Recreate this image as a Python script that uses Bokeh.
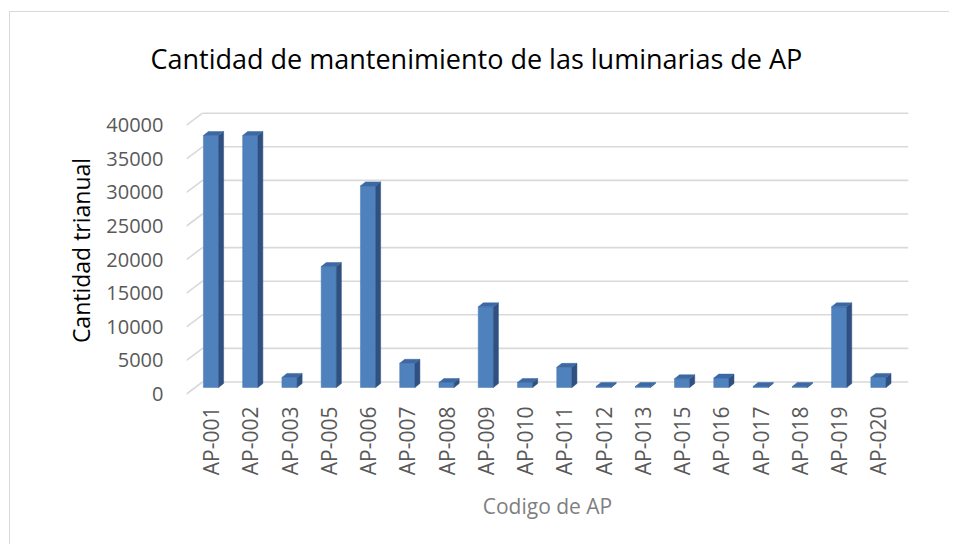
import math
from bokeh.plotting import figure
from bokeh.models import Range1d, FixedTicker, ColumnDataSource
from bokeh.embed import file_html
from bokeh.resources import INLINE

# ---------------- data ----------------
categories = ["AP-001", "AP-002", "AP-003", "AP-005", "AP-006", "AP-007", "AP-008",
              "AP-009", "AP-010", "AP-011", "AP-012", "AP-013", "AP-015", "AP-016",
              "AP-017", "AP-018", "AP-019", "AP-020"]
values = [37500, 37500, 1500, 18000, 30000, 3600, 750, 12000, 750, 3000,
          150, 150, 1300, 1400, 150, 150, 12000, 1500]
y_ticks = [0, 5000, 10000, 15000, 20000, 25000, 30000, 35000, 40000]

title_text = "Cantidad de mantenimiento de las luminarias de AP"
x_title = "Codigo de AP"
y_title = "Cantidad trianual"

# ---------------- geometry (page pixels) ----------------
ORIGIN_X, ORIGIN_Y = 10, 12          # canvas origin on page
W, H = 940, 533
FRAME_L, FRAME_R, FRAME_T, FRAME_B = 186, 908, 100, 400
CAT0_PX, CAT_STEP_PX = 210.5, 39.26
Y0_PX, PX_PER_UNIT = 393.5, 6.72 / 1000.0

x_start = (FRAME_L - CAT0_PX) / CAT_STEP_PX
x_end = (FRAME_R - CAT0_PX) / CAT_STEP_PX
y_start = (Y0_PX - FRAME_B) / PX_PER_UNIT
y_end = (Y0_PX - FRAME_T) / PX_PER_UNIT


def dx(px):
    return px / CAT_STEP_PX


def dy(px):
    return px / PX_PER_UNIT


FONT = "Open Sans"

p = figure(width=W, height=H,
           x_range=Range1d(x_start, x_end), y_range=Range1d(y_start, y_end),
           output_backend="svg", toolbar_location=None,
           min_border_left=FRAME_L - ORIGIN_X, min_border_right=(ORIGIN_X + W) - FRAME_R,
           min_border_top=FRAME_T - ORIGIN_Y, min_border_bottom=(ORIGIN_Y + H) - FRAME_B)
p.xgrid.visible = False
p.ygrid.visible = False
p.outline_line_color = None
p.background_fill_color = "white"
p.border_fill_color = "white"
p.styles = {"margin-left": "9px", "margin-top": "11px",
            "border-top": "1px solid #d9d9d9", "border-left": "1px solid #d9d9d9"}

# ---------------- title ----------------
p.title.text = title_text
p.title.text_font = FONT
p.title.text_font_size = "27px"
p.title.text_font_style = "normal"
p.title.text_color = "#000000"
p.title.align = "left"
p.title.offset = 150 - FRAME_L
p.title.standoff = 48

# ---------------- 3D wall gridlines ----------------
BACK_DX, BACK_DY = dx(16), dy(12)
p.segment(x0=[x_start + BACK_DX] * len(y_ticks), y0=[t + BACK_DY for t in y_ticks],
          x1=[x_end] * len(y_ticks), y1=[t + BACK_DY for t in y_ticks],
          line_color="#d9d9d9", line_width=1.6)
p.segment(x0=[x_start] * len(y_ticks), y0=y_ticks,
          x1=[x_start + BACK_DX] * len(y_ticks), y1=[t + BACK_DY for t in y_ticks],
          line_color="#d9d9d9", line_width=1.6)

# ---------------- 3D columns ----------------
HALF = dx(7.6)
BASE = dy(6.5)
DEP_X, DEP_Y = dx(5), dy(4)

idx = list(range(len(categories)))
front = ColumnDataSource(dict(left=[i - HALF for i in idx], right=[i + HALF for i in idx],
                              bottom=[BASE] * len(idx), top=[BASE + v for v in values]))
p.quad(left="left", right="right", bottom="bottom", top="top", source=front,
       fill_color="#4f81bd", line_color="#4a7ab5", line_width=0.5)

side_xs, side_ys, top_xs, top_ys = [], [], [], []
for i, v in zip(idx, values):
    r = i + HALF
    l = i - HALF
    t = BASE + v
    side_xs.append([r, r + DEP_X, r + DEP_X, r])
    side_ys.append([BASE, BASE + DEP_Y, t + DEP_Y, t])
    top_xs.append([l, r, r + DEP_X, l + DEP_X])
    top_ys.append([t, t, t + DEP_Y, t + DEP_Y])
p.patches(xs=side_xs, ys=side_ys, fill_color="#2f5080", line_color="#2f5080", line_width=0.5)
p.patches(xs=top_xs, ys=top_ys, fill_color="#3c68a3", line_color="#3c68a3", line_width=0.5)

# ---------------- axes ----------------
p.xaxis.ticker = FixedTicker(ticks=idx)
p.xaxis.major_label_overrides = {i: c for i, c in zip(idx, categories)}
p.xaxis.major_label_orientation = math.pi / 2
p.xaxis.major_label_standoff = 0
p.xaxis.major_label_text_font = FONT
p.xaxis.major_label_text_font_size = "21px"
p.xaxis.major_label_text_color = "#595959"
p.xaxis.axis_line_color = None
p.xaxis.major_tick_line_color = None
p.xaxis.minor_tick_line_color = None
p.xaxis.axis_label = x_title
p.xaxis.axis_label_text_font = FONT
p.xaxis.axis_label_text_font_size = "21px"
p.xaxis.axis_label_text_font_style = "normal"
p.xaxis.axis_label_text_color = "#7f7f7f"
p.xaxis.axis_label_standoff = 14

p.yaxis.ticker = FixedTicker(ticks=y_ticks)
p.yaxis.major_label_standoff = 17
p.yaxis.major_label_text_font = FONT
p.yaxis.major_label_text_font_size = "20px"
p.yaxis.major_label_text_color = "#595959"
p.yaxis.axis_line_color = None
p.yaxis.major_tick_line_color = None
p.yaxis.minor_tick_line_color = None
p.yaxis.axis_label = y_title
p.yaxis.axis_label_text_font = FONT
p.yaxis.axis_label_text_font_size = "23px"
p.yaxis.axis_label_text_font_style = "normal"
p.yaxis.axis_label_text_color = "#000000"
p.yaxis.axis_label_standoff = 6

open("out.html", "w").write(file_html(p, INLINE))
